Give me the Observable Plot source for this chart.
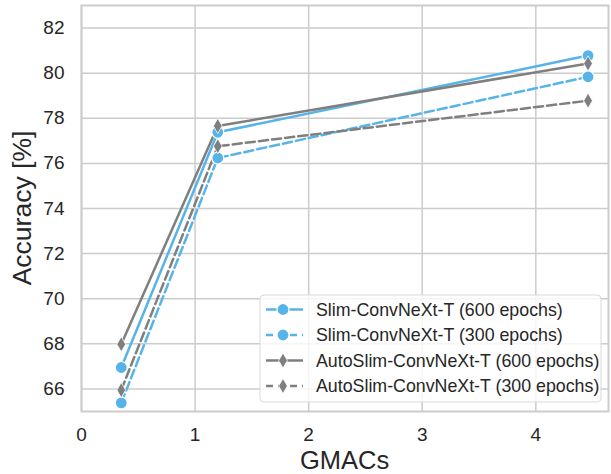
<!DOCTYPE html>
<html>
<head>
<meta charset="utf-8">
<script src="https://cdn.jsdelivr.net/npm/d3@7"></script>
<script src="https://cdn.jsdelivr.net/npm/@observablehq/plot@0.6"></script>
<style>
  html, body { margin: 0; padding: 0; background: #fff; }
  #chart svg { display: block; font-family: "Liberation Sans", Arial, sans-serif; }
</style>
</head>
<body>
<div id="chart"></div>
<script>
// ---- data ----
const gmacs = [0.35, 1.2, 4.46];
const seriesNames = [
  "Slim-ConvNeXt-T (600 epochs)",
  "Slim-ConvNeXt-T (300 epochs)",
  "AutoSlim-ConvNeXt-T (600 epochs)",
  "AutoSlim-ConvNeXt-T (300 epochs)"
];
const slim600 = [66.95, 77.38, 80.78];
const slim300 = [65.38, 76.24, 79.84];
const auto600 = [67.98, 77.66, 80.43];
const auto300 = [65.95, 76.76, 78.78];
const xTicks = [0, 1, 2, 3, 4];
const yTicks = [66, 68, 70, 72, 74, 76, 78, 80, 82];
const xLabel = "GMACs";
const yLabel = "Accuracy [%]";

// ---- styles ----
const BLUE = "#56b4e9";
const GRAY = "#7f7f7f";
const LW = 2.5;
const DASH = "9.2,4";
const styles = [
  {color: BLUE, dash: null, symbol: "circle"},
  {color: BLUE, dash: DASH, symbol: "circle"},
  {color: GRAY, dash: null, symbol: "diamond"},
  {color: GRAY, dash: DASH, symbol: "diamond"}
];
const allValues = [slim600, slim300, auto600, auto300];
const rows = allValues.map((vals, i) => vals.map((v, j) => ({series: seriesNames[i], x: gmacs[j], y: v})));

const W = 611, H = 474;
const mL = 81, mR = 3, mT = 5, mB = 63;

const marks = [
  Plot.gridX(xTicks, {stroke: "#cccccc", strokeOpacity: 1, strokeWidth: 1.5}),
  Plot.gridY(yTicks, {stroke: "#cccccc", strokeOpacity: 1, strokeWidth: 1.5}),
  Plot.frame({stroke: "#cccccc", strokeWidth: 2})
];
rows.forEach((data, i) => {
  const s = styles[i];
  marks.push(Plot.line(data, {x: "x", y: "y", stroke: s.color, strokeWidth: LW, strokeDasharray: s.dash}));
});
rows.forEach((data, i) => {
  const s = styles[i];
  if (s.symbol === "circle") {
    marks.push(Plot.dot(data, {x: "x", y: "y", r: 6, fill: s.color, stroke: "white", strokeWidth: 1.2}));
  } else {
    marks.push(Plot.dot(data, {x: "x", y: "y", symbol: "diamond", r: 4.6, fill: s.color, stroke: "white", strokeWidth: 0.8}));
  }
});
marks.push(Plot.axisX(xTicks, {tickSize: 0, tickPadding: 16, fontSize: 19, label: null, fill: "#262626", tickFormat: d3.format("d")}));
marks.push(Plot.axisY(yTicks, {tickSize: 0, tickPadding: 17, fontSize: 19, label: null, fill: "#262626", tickFormat: d3.format("d")}));

const chart = Plot.plot({
  width: W, height: H,
  marginLeft: mL, marginRight: mR, marginTop: mT, marginBottom: mB,
  x: {domain: [0, 4.64]},
  y: {domain: [65, 83]},
  style: {fontFamily: "Liberation Sans, Arial, sans-serif", background: "white", overflow: "visible"},
  marks
});
document.getElementById("chart").appendChild(chart);

// ---- axis titles ----
const svg = d3.select(chart);
svg.append("text")
  .attr("x", mL + (W - mL - mR) / 2).attr("y", 468.5)
  .attr("text-anchor", "middle").attr("font-size", 25.5).attr("fill", "#262626")
  .text(xLabel);
svg.append("text")
  .attr("transform", `translate(31,${mT + (H - mT - mB) / 2}) rotate(-90)`)
  .attr("text-anchor", "middle").attr("font-size", 26.5).attr("fill", "#262626")
  .text(yLabel);

// ---- legend ----
const lg = svg.append("g").attr("transform", "translate(260,295)").attr("text-anchor", "start");
lg.append("rect").attr("width", 341).attr("height", 107).attr("rx", 4)
  .attr("fill", "white").attr("fill-opacity", 0.8).attr("stroke", "#d9d9d9").attr("stroke-width", 1);
const sym = d3.symbol().type(d3.symbolDiamond).size(4.6 * 4.6 * Math.PI);
seriesNames.forEach((name, i) => {
  const s = styles[i];
  const g = lg.append("g").attr("transform", `translate(0,${14.5 + i * 25.5})`);
  g.append("line").attr("x1", 6).attr("x2", 43).attr("y1", 0).attr("y2", 0)
    .attr("stroke", s.color).attr("stroke-width", LW)
    .attr("stroke-dasharray", s.dash ? "7,5" : null);
  if (s.symbol === "circle") {
    g.append("circle").attr("cx", 23).attr("cy", 0).attr("r", 6).attr("fill", s.color).attr("stroke", "white").attr("stroke-width", 1.2);
  } else {
    g.append("path").attr("transform", "translate(23,0)").attr("d", sym()).attr("fill", s.color).attr("stroke", "white").attr("stroke-width", 0.8);
  }
  g.append("text").attr("x", 56).attr("y", 0).attr("dy", "0.35em").attr("text-anchor", "start")
    .attr("font-size", 17.8).attr("fill", "#262626").text(name);
});
</script>
</body>
</html>
